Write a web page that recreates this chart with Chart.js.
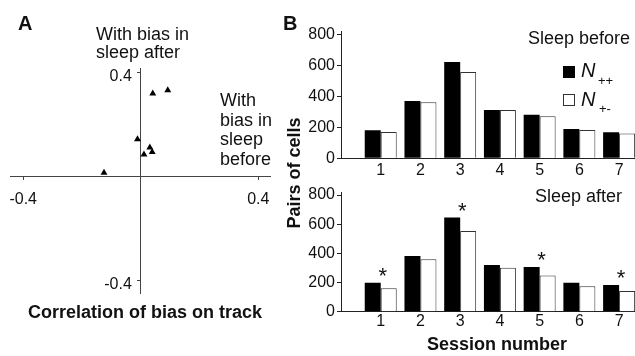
<!DOCTYPE html>
<html>
<head>
<meta charset="utf-8">
<script src="https://cdn.jsdelivr.net/npm/chart.js@4"></script>
<style>
  body { margin: 0; width: 635px; height: 356px; position: relative; overflow: hidden; background: #fff;
         font-family: "Liberation Sans", Arial, sans-serif; color: #111; }
  canvas { position: absolute; }
  .t { position: absolute; white-space: nowrap; font-size: 18px; line-height: 18px; }
  .b { font-weight: bold; }
  .box { position: absolute; width: 12px; height: 12px; box-sizing: border-box; }
</style>
</head>
<body>
<canvas id="corr" width="295" height="313" style="left:-10px;top:0"></canvas>
<canvas id="before" width="345" height="180" style="left:290px;top:0"></canvas>
<canvas id="after" width="345" height="160" style="left:290px;top:170px"></canvas>

<div class="t b" style="left:18px;top:13px;font-size:20px;line-height:20px">A</div>
<div class="t b" style="left:283px;top:13px;font-size:20px;line-height:20px">B</div>
<div class="t" style="left:96px;top:24.5px;line-height:18.5px">With bias in<br>sleep after</div>
<div class="t" style="left:220px;top:91.3px;line-height:19.5px">With<br>bias in<br>sleep<br>before</div>
<div class="t b" style="left:28px;top:303px">Correlation of bias on track</div>
<div class="t b" style="left:223.5px;top:163.5px;width:140px;text-align:center;transform:rotate(-90deg)">Pairs of cells</div>
<div class="t b" style="left:397px;top:334.8px;width:200px;text-align:center">Session number</div>
<div class="t" style="right:5px;top:28.8px">Sleep before</div>
<div class="t" style="left:535px;top:186.5px">Sleep after</div>

<div class="box" style="left:563px;top:66px;background:#000"></div>
<div class="t" style="left:581px;top:60.4px;font-size:20px;line-height:20px;font-style:italic">N</div>
<div class="t" style="left:598px;top:73.8px;font-size:13px;line-height:13px">++</div>
<div class="box" style="left:563px;top:94px;border:1px solid #333;background:#fff"></div>
<div class="t" style="left:581px;top:88.8px;font-size:20px;line-height:20px;font-style:italic">N</div>
<div class="t" style="left:599px;top:102px;font-size:13px;line-height:13px">+-</div>

<script>
// panel B: pairs of cells per recording session
const sessions = [1, 2, 3, 4, 5, 6, 7];
const beforePlusPlus = [181, 371, 623, 313, 282, 190, 169];
const beforePlusMinus = [170, 362, 558, 313, 272, 183, 160];
const afterPlusPlus = [199, 382, 645, 320, 306, 199, 183];
const afterPlusMinus = [160, 359, 553, 302, 249, 174, 142];
const starredSessions = [1, 3, 5, 7];
const countTicks = [0, 200, 400, 600, 800];

// panel A: correlation of track bias with sleep bias, one point per session
const corrBefore = [0.041, 0.092, -0.011, 0.031, 0.039, 0.011, -0.125];
const corrAfter = [0.319, 0.331, 0.143, 0.111, 0.094, 0.084, 0.014];
const corrTicks = [-0.4, 0.4];

const INK = "#111";
const AXIS = "#222";

Chart.defaults.font.family = "'Liberation Sans', Arial, sans-serif";
Chart.defaults.font.size = 16;
Chart.defaults.color = INK;
Chart.defaults.animation = false;
Chart.defaults.responsive = false;
Chart.defaults.devicePixelRatio = 1;
Chart.defaults.plugins.legend.display = false;
Chart.defaults.plugins.tooltip.enabled = false;

const setTicks = (values) => (axis) => {
  axis.ticks = values.map((v) => ({ value: v }));
};

// asterisks above the sessions where N++ and N+- differ
const starPlugin = {
  id: "stars",
  afterDatasetsDraw(chart, args, opts) {
    if (!opts.sessions) return;
    const meta = chart.getDatasetMeta(0);
    const ctx = chart.ctx;
    ctx.save();
    ctx.font = "22px 'Liberation Sans', Arial, sans-serif";
    ctx.fillStyle = INK;
    ctx.textAlign = "center";
    ctx.textBaseline = "middle";
    opts.sessions.forEach((s) => {
      const bar = meta.data[sessions.indexOf(s)];
      ctx.fillText("*", bar.x + bar.width / 2 + 2, bar.y - 6);
    });
    ctx.restore();
  },
};

function renderSessionChart(canvasId, plusPlus, plusMinus, layout) {
  return new Chart(document.getElementById(canvasId), {
    type: "bar",
    data: {
      labels: sessions,
      datasets: [
        { data: plusPlus, backgroundColor: "#000", borderColor: "#000", borderWidth: 0 },
        { data: plusMinus, backgroundColor: "#fff", borderColor: "#333", borderWidth: 1 },
      ],
    },
    options: {
      categoryPercentage: 0.805,
      barPercentage: 1,
      layout: { padding: { top: layout.top, left: 0, right: 0, bottom: 0 } },
      plugins: { stars: { sessions: layout.stars } },
      scales: {
        x: {
          type: "linear",
          offset: false,
          min: 0,
          max: 7.4,
          afterBuildTicks: setTicks(sessions),
          afterFit: (axis) => { axis.height = layout.xHeight; },
          grid: { display: false, drawTicks: false, offset: false },
          border: { color: AXIS, width: 1 },
          ticks: { padding: layout.xPad, color: INK },
        },
        y: {
          min: 0,
          max: 820,
          afterBuildTicks: setTicks(countTicks),
          afterFit: (axis) => { axis.width = 51; },
          grid: { drawOnChartArea: false, tickLength: 4, color: AXIS },
          border: { color: AXIS, width: 1 },
          ticks: { padding: 2, color: INK },
        },
      },
    },
    plugins: [starPlugin],
  });
}

renderSessionChart("before", beforePlusPlus, beforePlusMinus, { top: 31.6, xHeight: 21.7, xPad: 3, stars: null });
renderSessionChart("after", afterPlusPlus, afterPlusMinus, { top: 22.1, xHeight: 18.3, xPad: 0, stars: starredSessions });

new Chart(document.getElementById("corr"), {
  type: "scatter",
  data: {
    datasets: [{
      data: corrBefore.map((x, i) => ({ x, y: corrAfter[i] })),
      pointStyle: "triangle",
      radius: 4,
      backgroundColor: "#000",
      borderColor: "#000",
      borderWidth: 0,
    }],
  },
  options: {
    layout: { padding: { left: 20, right: 15, top: 68, bottom: 20 } },
    scales: {
      x: {
        type: "linear",
        position: { y: 0 },
        min: -0.445,
        max: 0.44,
        afterBuildTicks: setTicks(corrTicks),
        grid: { drawOnChartArea: false, tickLength: 3, color: "#444" },
        border: { color: "#444", width: 1 },
        ticks: { padding: 10.5, color: INK },
      },
      y: {
        type: "linear",
        position: { x: 0 },
        min: -0.448,
        max: 0.417,
        afterBuildTicks: setTicks(corrTicks),
        grid: { drawOnChartArea: false, tickLength: 3, color: "#444" },
        border: { color: "#444", width: 1 },
        ticks: { padding: 6, labelOffset: 4, color: INK, callback: (v) => v + "  " },
      },
    },
  },
});
</script>
</body>
</html>
